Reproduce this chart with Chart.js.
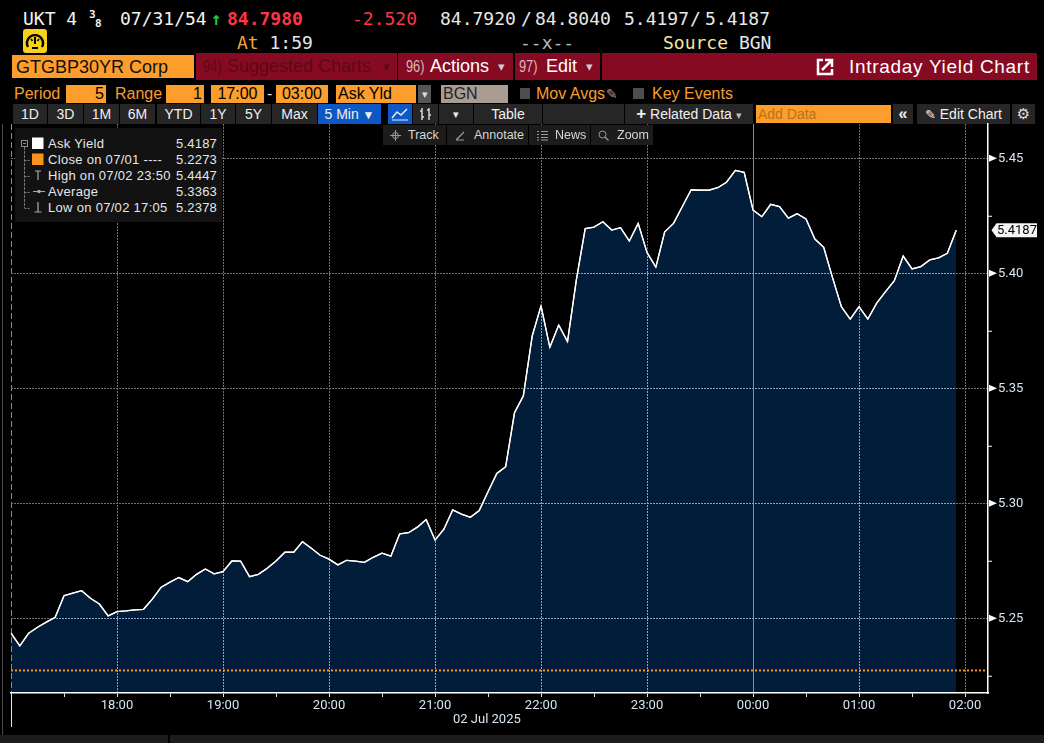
<!DOCTYPE html>
<html><head><meta charset="utf-8">
<script src="https://cdn.jsdelivr.net/npm/chart.js@4.4.1/dist/chart.umd.min.js"></script>
<style>
body{margin:0;background:#000;width:1044px;height:743px;overflow:hidden;position:relative;font-family:"Liberation Sans",Arial,sans-serif;color:#e8e8e8}
.a{position:absolute;white-space:nowrap}
.m{font-family:"DejaVu Sans Mono",monospace;font-size:18px;line-height:20px}
.rb{position:absolute;top:53px;height:27px;background:#860b22;font-size:18px;line-height:27px;white-space:nowrap}
.nm{position:absolute;font-size:16px;display:inline-block;transform:scaleX(0.8);transform-origin:left center}
.ob{position:absolute;top:85px;height:18px;background:#fd9d2b;color:#000;font-size:16px;line-height:18px;white-space:nowrap}
.ol{position:absolute;top:85px;height:18px;color:#f89c2a;font-size:16px;line-height:18px;white-space:nowrap}
.b5{position:absolute;top:104px;height:20px;background:#262626;color:#f0f0f0;font-size:14px;line-height:20px;text-align:center;white-space:nowrap}
.b6{position:absolute;top:125px;height:20px;background:#1c1c1c;color:#d6d6d6;font-size:12.5px;line-height:20px;white-space:nowrap;z-index:3}
.lg{position:absolute;left:33px;font-size:13px;letter-spacing:0.3px;line-height:16px;color:#e6e6e6;white-space:nowrap}
.lv{position:absolute;right:5px;font-size:13px;letter-spacing:0.2px;line-height:16px;color:#e6e6e6}
canvas{position:absolute;left:0;top:0;z-index:1}
</style></head>
<body>
<!-- row 1 -->
<div class="a m" style="left:23px;top:9px;color:#f2f2f2">UKT 4</div>
<div class="a" style="left:89px;top:8px;font:bold 11px 'DejaVu Sans Mono';color:#f2f2f2">3</div>
<div class="a" style="left:95px;top:17px;font:bold 11px 'DejaVu Sans Mono';color:#f2f2f2">8</div>
<div class="a m" style="left:120px;top:9px;color:#f2f2f2">07/31/54</div>
<div class="a m" style="left:211px;top:9px;color:#27c93f;font-weight:bold">↑</div>
<div class="a m" style="left:227px;top:9px;color:#ff3448;font-weight:bold">84.7980</div>
<div class="a m" style="left:352px;top:9px;color:#ff3448">-2.520</div>
<div class="a m" style="left:440px;top:9px;color:#e8e8e8">84.7920</div>
<div class="a m" style="left:521px;top:9px;color:#e8e8e8">/</div>
<div class="a m" style="left:535px;top:9px;color:#e8e8e8">84.8040</div>
<div class="a m" style="left:624px;top:9px;color:#e8e8e8">5.4197</div>
<div class="a m" style="left:690px;top:9px;color:#e8e8e8">/</div>
<div class="a m" style="left:705px;top:9px;color:#e8e8e8">5.4187</div>
<!-- row 2 -->
<svg class="a" style="left:23px;top:29px" width="24" height="24" viewBox="0 0 24 24">
<rect x="0" y="0" width="24" height="24" rx="3" fill="#f6d21a"/>
<path d="M5 18 A8 8 0 1 1 19 18" stroke="#000" stroke-width="2.4" fill="none"/>
<line x1="12" y1="15" x2="12" y2="8" stroke="#000" stroke-width="2"/>
<line x1="8" y1="10" x2="9.5" y2="12" stroke="#000" stroke-width="1.6"/>
<line x1="16" y1="10" x2="14.5" y2="12" stroke="#000" stroke-width="1.6"/>
<line x1="9" y1="19" x2="15" y2="19" stroke="#000" stroke-width="2"/>
</svg>
<div class="a m" style="left:237px;top:33px"><span style="color:#f6a33c">At</span> <span style="color:#e0e8f0">1:59</span></div>
<div class="a m" style="left:520px;top:33px;color:#b8b8b8">--x--</div>
<div class="a m" style="left:663px;top:33px"><span style="color:#f6e6a0">Source</span> <span style="color:#e0e8f0">BGN</span></div>
<!-- row 3 -->
<div class="a" style="left:12px;top:55px;width:182px;height:23px;background:#fd9d2b;color:#111;font-size:18px;line-height:24px;padding-left:4px;box-sizing:border-box">GTGBP30YR Corp</div>
<div class="rb" style="left:196px;width:201px;color:#5e0716"><span class="nm" style="left:7px">94)</span><span style="position:absolute;left:31px">Suggested Charts</span><span style="position:absolute;left:187px;font-size:13px">▾</span></div>
<div class="rb" style="left:398px;width:115px;color:#fff"><span class="nm" style="left:8px;color:#d8b8be">96)</span><span style="position:absolute;left:32px">Actions</span><span style="position:absolute;left:100px;font-size:13px;color:#ccc">▾</span></div>
<div class="rb" style="left:515px;width:85px;color:#fff"><span class="nm" style="left:4px;color:#d8b8be">97)</span><span style="position:absolute;left:31px">Edit</span><span style="position:absolute;left:71px;font-size:13px;color:#ccc">▾</span></div>
<div class="rb" style="left:602px;width:435px;color:#fff"><svg style="position:absolute;left:214px;top:5px" width="18" height="18" viewBox="0 0 18 18"><path d="M7 2 H2 V16 H16 V11" stroke="#fff" stroke-width="2.5" fill="none"/><path d="M6 12 L15 3 M9 2 H16 V9" stroke="#fff" stroke-width="2.5" fill="none"/></svg><span style="position:absolute;left:247px;font-size:19px;letter-spacing:0.7px">Intraday Yield Chart</span></div>
<!-- row 4 -->
<div class="ol" style="left:14px">Period</div>
<div class="ob" style="left:66px;width:40px;text-align:right;padding-right:2px;box-sizing:border-box">5</div>
<div class="ol" style="left:115px">Range</div>
<div class="ob" style="left:166px;width:38px;text-align:right;padding-right:2px;box-sizing:border-box">1</div>
<div class="ob" style="left:211px;width:53px;text-align:center">17:00</div>
<div class="ol" style="left:267px;color:#ddd">-</div>
<div class="ob" style="left:276px;width:52px;text-align:center">03:00</div>
<div class="ob" style="left:336px;width:80px;padding-left:2px;box-sizing:border-box">Ask Yld</div>
<div class="ob" style="left:418px;width:13px;background:#555;color:#ddd;font-size:11px;text-align:center">▾</div>
<div class="ob" style="left:441px;width:67px;background:#a99d91;color:#222;padding-left:2px;box-sizing:border-box">BGN</div>
<div class="a" style="left:520px;top:88px;width:10px;height:11px;background:#4d4d4d"></div>
<div class="ol" style="left:536px">Mov Avgs</div>
<div class="ol" style="left:606px;color:#9a9a9a;font-family:'DejaVu Sans';font-size:14px">✎</div>
<div class="a" style="left:633px;top:88px;width:11px;height:11px;background:#4d4d4d"></div>
<div class="ol" style="left:652px">Key Events</div>
<!-- row 5 -->
<div class="b5" style="left:13px;width:34px">1D</div>
<div class="b5" style="left:48px;width:35px">3D</div>
<div class="b5" style="left:84px;width:35px">1M</div>
<div class="b5" style="left:120px;width:35px">6M</div>
<div class="b5" style="left:157px;width:43px">YTD</div>
<div class="b5" style="left:201px;width:34px">1Y</div>
<div class="b5" style="left:236px;width:35px">5Y</div>
<div class="b5" style="left:272px;width:45px">Max</div>
<div class="b5" style="left:318px;width:63px;background:#0d58c4">5 Min <span style="font-size:12px">▼</span></div>
<div class="b5" style="left:388px;width:24px;background:#0d58c4"><svg width="20" height="16" viewBox="0 0 20 16" style="margin-top:2px"><polyline points="2,12 7,6 11,9 17,3" stroke="#e8eef8" stroke-width="1.5" fill="none"/><line x1="2" y1="14" x2="18" y2="14" stroke="#e8eef8" stroke-width="1"/></svg></div>
<div class="b5" style="left:413px;width:25px"><svg width="16" height="16" viewBox="0 0 16 16" style="margin-top:2px"><path d="M4 2 V14 M2 5 H4 M4 11 H6 M11 2 V14 M9 4 H11 M11 9 H13" stroke="#ddd" stroke-width="1.4" fill="none"/></svg></div>
<div class="b5" style="left:439px;width:34px;font-size:11px">▾</div>
<div class="b5" style="left:474px;width:68px">Table</div>
<div class="b5" style="left:543px;width:81px"></div>
<div class="b5" style="left:625px;width:128px"><b style="font-size:17px">+</b> Related Data <span style="font-size:11px;color:#bbb">▾</span></div>
<div class="a" style="left:756px;top:105px;width:135px;height:18px;background:#fd9d2b;color:#b87318;font-size:14px;line-height:18px;padding-left:2px;box-sizing:border-box">Add Data</div>
<div class="b5" style="left:893px;width:20px;font-size:16px;font-weight:bold">«</div>
<div class="b5" style="left:917px;width:93px"><span style="font-family:'DejaVu Sans';font-size:13px">✎</span> Edit Chart</div>
<div class="b5" style="left:1012px;width:23px;font-family:'DejaVu Sans';font-size:15px;color:#ddd">⚙</div>
<!-- window border lines -->
<div class="a" style="left:2px;top:124px;width:1px;height:611px;background:#4a4a4a;z-index:2"></div>
<div class="a" style="left:11px;top:693px;width:1.2px;height:34px;background:#e8e8e8;z-index:2"></div>
<div class="a" style="left:0;top:735px;width:1044px;height:8px;background:#1c1c1c"></div>
<div class="a" style="left:168px;top:735px;width:2px;height:8px;background:#000"></div>

<canvas id="c" width="1044" height="743"></canvas>

<!-- row 6 buttons (over chart) -->
<div class="b6" style="left:383px;width:63px"><svg style="position:absolute;left:7px;top:5px" width="11" height="11" viewBox="0 0 11 11"><circle cx="5.5" cy="5.5" r="3" stroke="#999" fill="none"/><path d="M5.5 0 V11 M0 5.5 H11" stroke="#999"/></svg><span style="position:absolute;left:25px">Track</span></div>
<div class="b6" style="left:447px;width:81px"><svg style="position:absolute;left:8px;top:5px" width="11" height="11" viewBox="0 0 11 11"><path d="M1 10 L9 2 M1 10 H9" stroke="#999" stroke-width="1.2"/></svg><span style="position:absolute;left:27px">Annotate</span></div>
<div class="b6" style="left:529px;width:61px"><svg style="position:absolute;left:8px;top:5px" width="11" height="11" viewBox="0 0 11 11"><path d="M0 1.5 H2 M4 1.5 H11 M0 4.5 H2 M4 4.5 H11 M0 7.5 H2 M4 7.5 H11 M0 10 H2 M4 10 H11" stroke="#999"/></svg><span style="position:absolute;left:26px">News</span></div>
<div class="b6" style="left:591px;width:62px"><svg style="position:absolute;left:7px;top:5px" width="11" height="11" viewBox="0 0 11 11"><circle cx="4.5" cy="4.5" r="3.5" stroke="#999" fill="none"/><path d="M7 7 L10.5 10.5" stroke="#999" stroke-width="1.3"/></svg><span style="position:absolute;left:26px">Zoom</span></div>

<!-- legend box -->
<div class="a" style="left:15px;top:128px;width:207px;height:94px;background:#121212;z-index:3">
<svg style="position:absolute;left:0;top:0" width="207" height="94">
<rect x="6.5" y="12.5" width="6" height="6" stroke="#8a8a8a" fill="none"/>
<line x1="8" y1="15.5" x2="11" y2="15.5" stroke="#8a8a8a"/>
<line x1="9.5" y1="19" x2="9.5" y2="80" stroke="#777" stroke-dasharray="3,1"/>
<path d="M9.5 32.5 H15 M9.5 48.5 H15 M9.5 64.5 H15 M9.5 80.5 H15" stroke="#777" stroke-dasharray="2,1"/>
<rect x="17" y="9.5" width="11.5" height="11.5" fill="#ffffff"/>
<rect x="17" y="25.5" width="11.5" height="11.5" fill="#f7931e"/>
<path d="M23 43 V52 M20 43 H26" stroke="#aaa" stroke-width="1.2" fill="none"/>
<path d="M18 63.5 H30" stroke="#aaa" stroke-width="1"/><circle cx="24" cy="63.5" r="1.8" fill="#aaa"/>
<path d="M23 74 V84 M19.5 84 H26.5" stroke="#aaa" stroke-width="1.2" fill="none"/>
</svg>
<div class="lg" style="top:8px">Ask Yield</div><div class="lv" style="top:8px">5.4187</div>
<div class="lg" style="top:24px">Close on 07/01 ----</div><div class="lv" style="top:24px">5.2273</div>
<div class="lg" style="top:40px">High on 07/02 23:50</div><div class="lv" style="top:40px">5.4447</div>
<div class="lg" style="top:56px">Average</div><div class="lv" style="top:56px">5.3363</div>
<div class="lg" style="top:72px">Low on 07/02 17:05</div><div class="lv" style="top:72px">5.2378</div>
</div>
<div class="a" style="left:453px;top:711px;font:13px Roboto;color:#d8e4f2;z-index:2">02 Jul 2025</div>

<script>
// ---- data ----
const times = ['17:00','17:05','17:10','17:15','17:20','17:25','17:30','17:35','17:40','17:45','17:50','17:55',
'18:00','18:05','18:10','18:15','18:20','18:25','18:30','18:35','18:40','18:45','18:50','18:55',
'19:00','19:05','19:10','19:15','19:20','19:25','19:30','19:35','19:40','19:45','19:50','19:55',
'20:00','20:05','20:10','20:15','20:20','20:25','20:30','20:35','20:40','20:45','20:50','20:55',
'21:00','21:05','21:10','21:15','21:20','21:25','21:30','21:35','21:40','21:45','21:50','21:55',
'22:00','22:05','22:10','22:15','22:20','22:25','22:30','22:35','22:40','22:45','22:50','22:55',
'23:00','23:05','23:10','23:15','23:20','23:25','23:30','23:35','23:40','23:45','23:50','23:55',
'00:00','00:05','00:10','00:15','00:20','00:25','00:30','00:35','00:40','00:45','00:50','00:55',
'01:00','01:05','01:10','01:15','01:20','01:25','01:30','01:35','01:40','01:45','01:50','01:55'];
const askYield = [5.2435,5.2380,5.2435,5.2461,5.2483,5.2504,5.2598,5.2609,5.2620,5.2587,5.2562,5.2510,
5.2529,5.2532,5.2536,5.2539,5.2583,5.2635,5.2657,5.2677,5.2659,5.2691,5.2714,5.2693,
5.2703,5.2749,5.2748,5.2681,5.2691,5.2717,5.2749,5.2787,5.2787,5.2833,5.2804,5.2774,
5.2757,5.2732,5.2752,5.2748,5.2743,5.2765,5.2783,5.2770,5.2867,5.2872,5.2896,5.2929,
5.2840,5.2887,5.2971,5.2953,5.2939,5.2968,5.3050,5.3130,5.3159,5.3394,5.3467,5.3727,
5.3858,5.3678,5.3775,5.3703,5.3971,5.4194,5.4201,5.4224,5.4188,5.4198,5.4140,5.4217,
5.4090,5.4027,5.4180,5.4217,5.4290,5.4363,5.4361,5.4361,5.4372,5.4396,5.4447,5.4439,
5.4275,5.4246,5.4300,5.4290,5.4240,5.4259,5.4236,5.4149,5.4113,5.3981,5.3855,5.3801,
5.3855,5.3801,5.3870,5.3920,5.3968,5.4075,5.4019,5.4029,5.4058,5.4067,5.4087,5.4187];
const closeValue = 5.2273;
const xTickLabels = ['18:00','19:00','20:00','21:00','22:00','23:00','00:00','01:00','02:00'];
const yTickLabels = ['5.25','5.30','5.35','5.40','5.45'];
const yMinorTicks = ['5.225','5.275','5.325','5.375','5.425'];
const sessionStart = '17:00', sessionEnd = '02:13', dayBreak = '00:00';
const yMin = 5.2175, yMax = 5.4649;

// ---- helpers ----
function mins(t){let [h,m]=t.split(':').map(Number); if(h<17) h+=24; return (h-17)*60+m;}
const pts = times.map((t,i)=>({x:mins(t), y:askYield[i]}));
const xMajor = xTickLabels.map(mins);
const xTicks = [0];
xMajor.forEach(v=>{xTicks.push(v-30); xTicks.push(v);});
const yMajor = yTickLabels.map(Number), yMinor = yMinorTicks.map(Number);
const yTicks = yMajor.concat(yMinor).sort((a,b)=>a-b);
const isMajorY = v => yMajor.some(m=>Math.abs(m-v)<1e-6);
const dayBreakX = mins(dayBreak);
const GRID_DARK = '#727272', GRID_FILL = '#8aa2c2';

// grid drawn on top of the filled area, from the chart's own scales
const gridOnTop = {
  id:'gridOnTop',
  afterDatasetsDraw(chart){
    const ctx=chart.ctx, a=chart.chartArea, xs=chart.scales.x, ys=chart.scales.y;
    const meta=chart.getDatasetMeta(0);
    const seg=(x1,y1,x2,y2,col,dash)=>{ctx.strokeStyle=col; ctx.setLineDash(dash); ctx.beginPath(); ctx.moveTo(x1,y1); ctx.lineTo(x2,y2); ctx.stroke();};
    const drawGrid=(col)=>{
      xMajor.forEach(v=>{
        const px=Math.round(xs.getPixelForValue(v))+0.5;
        if(v===dayBreakX) seg(px,a.top,px,a.bottom,'#7890ac',[]);
        else seg(px,a.top,px,a.bottom,col,[2,1]);
      });
      yMajor.forEach(v=>{
        const py=Math.round(ys.getPixelForValue(v))+0.5;
        seg(a.left,py,a.right,py,col,[2,1]);
      });
    };
    ctx.save();
    ctx.beginPath(); ctx.rect(a.left,a.top,a.right-a.left,a.bottom-a.top); ctx.clip();
    ctx.lineWidth=1;
    seg(a.left+0.5,a.top,a.left+0.5,a.bottom,'#8c8c8c',[6,3]);
    drawGrid(GRID_DARK);
    ctx.restore();
    // parts over the filled area in a bluish tone
    ctx.save();
    ctx.beginPath();
    meta.data.forEach((p,i)=>{ if(i===0) ctx.moveTo(p.x,p.y); else ctx.lineTo(p.x,p.y); });
    const lastP=meta.data[meta.data.length-1], firstP=meta.data[0];
    ctx.lineTo(lastP.x,a.bottom); ctx.lineTo(firstP.x,a.bottom); ctx.closePath(); ctx.clip();
    ctx.lineWidth=1;
    drawGrid(GRID_FILL);
    ctx.restore();
    // data line back on top of the grid
    ctx.save();
    ctx.strokeStyle='#ffffff'; ctx.lineWidth=1.3; ctx.setLineDash([]); ctx.lineJoin='round';
    ctx.beginPath();
    meta.data.forEach((p,i)=>{ if(i===0) ctx.moveTo(p.x,p.y); else ctx.lineTo(p.x,p.y); });
    ctx.stroke();
    ctx.restore();
  },
  afterDraw(chart){
    const ctx=chart.ctx, y=chart.scales.y, R=chart.chartArea.right;
    ctx.save();
    yTicks.forEach(v=>{
      const py=y.getPixelForValue(v);
      ctx.fillStyle='#ffffff'; ctx.strokeStyle='#ffffff'; ctx.lineWidth=1;
      if(isMajorY(v)){
        ctx.beginPath(); ctx.moveTo(R+1,py-3.5); ctx.lineTo(R+9,py); ctx.lineTo(R+1,py+3.5); ctx.closePath(); ctx.fill();
      } else {
        ctx.beginPath(); ctx.moveTo(R,py+0.5); ctx.lineTo(R+4,py+0.5); ctx.stroke();
      }
    });
    const last = askYield[askYield.length-1];
    const py = y.getPixelForValue(last);
    ctx.fillStyle='#f4f4f4';
    ctx.beginPath(); ctx.moveTo(R+3.5,py); ctx.lineTo(R+8.5,py-7); ctx.lineTo(R+49,py-7); ctx.lineTo(R+49,py+7); ctx.lineTo(R+8.5,py+7); ctx.closePath(); ctx.fill();
    ctx.fillStyle='#000'; ctx.font='13px Roboto'; ctx.textBaseline='middle'; ctx.textAlign='left';
    ctx.fillText(last.toFixed(4), R+9, py+0.5);
    ctx.restore();
  }
};

new Chart(document.getElementById('c'), {
  type:'line',
  data:{datasets:[
    {label:'Ask Yield', data:pts, borderColor:'#ffffff', borderWidth:1.3, backgroundColor:'#021d39', fill:'start', pointRadius:0, tension:0, order:1},
    {label:'Close', data:[{x:mins(sessionStart),y:closeValue},{x:mins(sessionEnd),y:closeValue}], borderColor:'#f7931e', borderWidth:2, borderDash:[2,2], fill:false, pointRadius:0, order:0}
  ]},
  options:{
    responsive:false, animation:false, devicePixelRatio:1,
    layout:{padding:{top:124,left:11,right:0,bottom:0}},
    plugins:{legend:{display:false}, tooltip:{enabled:false}},
    scales:{
      x:{type:'linear', min:mins(sessionStart), max:mins(sessionEnd),
        afterBuildTicks:s=>{s.ticks=xTicks.map(v=>({value:v}));},
        afterFit:s=>{s.height=50;},
        grid:{drawOnChartArea:false, color:'transparent', tickLength:4, tickWidth:1,
          tickColor:c=>(c.tick&&c.tick.value===0)?'transparent':'#e6e6e6'},
        border:{z:2, color:'#ffffff', width:1.5},
        ticks:{autoSkip:false, maxRotation:0, padding:1, color:'#d8e4f2', font:{family:'Roboto', size:13},
          callback:v=>{const i=xMajor.indexOf(v); return i>=0?xTickLabels[i]:'';}}
      },
      y:{type:'linear', position:'right', min:yMin, max:yMax,
        afterBuildTicks:s=>{s.ticks=yTicks.map(v=>({value:v}));},
        afterFit:s=>{s.width=56;},
        grid:{drawOnChartArea:false, drawTicks:false, color:'transparent'},
        border:{z:2, color:'#ffffff', width:1.5},
        ticks:{padding:10, color:'#d8e4f2', font:{family:'Roboto', size:13},
          callback:v=>{const i=yMajor.findIndex(m=>Math.abs(m-v)<1e-6); return i>=0?yTickLabels[i]:'';}}
      }
    }
  },
  plugins:[gridOnTop]
});
</script>
</body></html>
